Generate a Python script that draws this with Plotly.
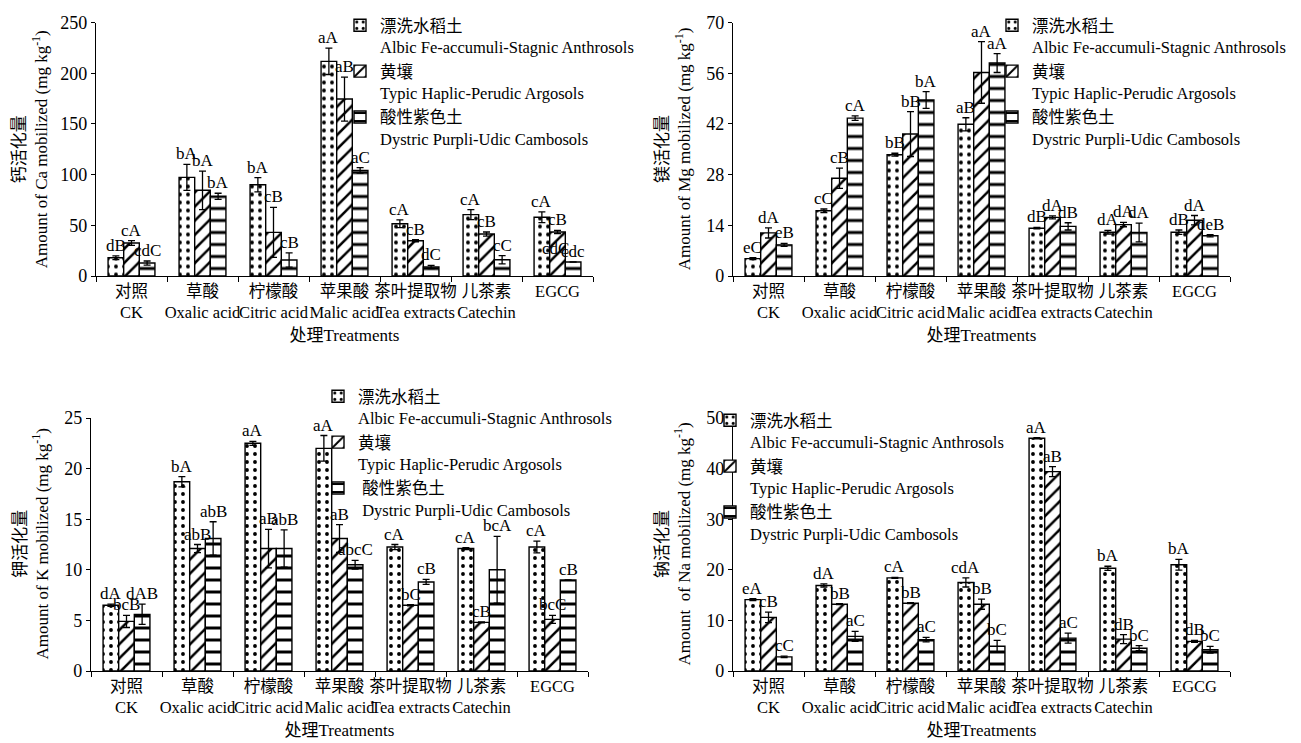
import plotly.graph_objects as go

FONT = "Liberation Serif, Times New Roman, Noto Sans CJK SC, serif"
W, H = 1301, 743

categories = ["对照<br>CK", "草酸<br>Oxalic acid", "柠檬酸<br>Citric acid", "苹果酸<br>Malic acid",
              "茶叶提取物<br>Tea extracts", "儿茶素<br>Catechin", "EGCG"]
series_names = ["漂洗水稻土<br>Albic Fe-accumuli-Stagnic Anthrosols",
                "黄壤<br>Typic Haplic-Perudic Argosols",
                "酸性紫色土<br>Dystric Purpli-Udic Cambosols"]
series_names_k = ["漂洗水稻土<br>Albic Fe-accumuli-Stagnic Anthrosols",
                  "黄壤<br>Typic Haplic-Perudic Argosols",
                  " 酸性紫色土<br> Dystric Purpli-Udic Cambosols"]

# Ca
ca_s1 = [18, 97.3, 90, 211.7, 51.6, 60.5, 57.9]
ca_s1_err = [1.8, 12.8, 7, 13, 3.8, 5, 5.3]
ca_s2 = [32.5, 84.5, 43, 174.5, 34.8, 41.4, 43.4]
ca_s2_err = [2.3, 19, 24.6, 21.7, 1, 2, 1.5]
ca_s3 = [12.8, 78.6, 15.8, 104.2, 8.9, 16, 13.8]
ca_s3_err = [2, 3, 7, 2.7, 1.5, 4, 0]
ca_l1 = ["dB", "bA", "bA", "aA", "cA", "cA", "cA"]
ca_l2 = ["cA", "bA", "cB", "aB", "cB", "cB", "cB"]
ca_l3 = ["cdC", "bA", "cB", "aC", "dC", "cC", "cdc"]
# stray label printed inside the EGCG hatched bar of the original figure
ca_stray_label = "cdC"
ca_stray_value = 27

# Mg
mg_s1 = [4.8, 18, 33.5, 41.9, 13.2, 12.1, 12.1]
mg_s1_err = [0.3, 0.5, 0.4, 1.8, 0.2, 0.5, 0.6]
mg_s2 = [11.9, 27, 39.2, 56.2, 16.2, 14.2, 15.4]
mg_s2_err = [1.4, 2.8, 6.2, 8.5, 0.4, 0.6, 1.3]
mg_s3 = [8.6, 43.6, 48.6, 58.8, 13.7, 12, 11.1]
mg_s3_err = [0.4, 0.6, 2.3, 2.6, 1, 2.6, 0.3]
mg_l1 = ["eC", "cC", "bB", "aB", "dB", "dA", "dB"]
mg_l2 = ["dA", "cB", "bB", "aA", "dA", "dA", "dA"]
mg_l3 = ["eB", "cA", "bA", "aA", "dB", "dA", "deB"]

# K
k_s1 = [6.5, 18.7, 22.5, 22, 12.25, 12.1, 12.25]
k_s1_err = [0.1, 0.5, 0.2, 1.27, 0.25, 0.1, 0.58]
k_s2 = [4.9, 12.1, 12.1, 13.1, 6.5, 4.8, 5.1]
k_s2_err = [0.6, 0.4, 1.9, 1.37, 0.05, 0.05, 0.4]
k_s3 = [5.6, 13.1, 12.1, 10.5, 8.8, 10.0, 9.0]
k_s3_err = [1.0, 1.65, 1.85, 0.43, 0.25, 3.3, 0]
k_l1 = ["dA", "bA", "aA", "aA", "cA", "cA", "cA"]
k_l2 = ["bcB", "abB", "aB", "aB", "bC", "cB", "bcC"]
k_l3 = ["dAB", "abB", "abB", "abcC", "cB", "bcA", "cB"]

# Na
na_s1 = [14.1, 16.9, 18.4, 17.5, 46.0, 20.3, 21]
na_s1_err = [0.2, 0.3, 0.1, 0.9, 0.1, 0.4, 1.05]
na_s2 = [10.6, 13.2, 13.4, 13.2, 39.4, 6.3, 5.85]
na_s2_err = [1.05, 0.1, 0.1, 1, 1, 0.9, 0.2]
na_s3 = [2.8, 6.85, 6.2, 4.9, 6.5, 4.5, 4.2]
na_s3_err = [0.15, 1, 0.45, 1.15, 1, 0.5, 0.65]
na_l1 = ["eA", "dA", "cA", "cdA", "aA", "bA", "bA"]
na_l2 = ["cB", "bB", "bB", "bB", "aB", "dB", "dB"]
na_l3 = ["cC", "aC", "aC", "bC", "aC", "bC", "bC"]

panels = [
    dict(vals=[ca_s1, ca_s2, ca_s3], errs=[ca_s1_err, ca_s2_err, ca_s3_err], labs=[ca_l1, ca_l2, ca_l3],
         names=series_names, ymax=250, dtick=50,
         ytitle="钙活化量<br>Amount of Ca mobilized (mg kg<sup>-1</sup>)", ytx=22,
         xpx=(88, 585), ypx=(14.5, 268), leg=(372, 0)),
    dict(vals=[mg_s1, mg_s2, mg_s3], errs=[mg_s1_err, mg_s2_err, mg_s3_err], labs=[mg_l1, mg_l2, mg_l3],
         names=series_names, ymax=70, dtick=14,
         ytitle="镁活化量<br>Amount of Mg mobilized (mg kg<sup>-1</sup>)", ytx=665,
         xpx=(725, 1222), ypx=(14.5, 268), leg=(1024, 0)),
    dict(vals=[k_s1, k_s2, k_s3], errs=[k_s1_err, k_s2_err, k_s3_err], labs=[k_l1, k_l2, k_l3],
         names=series_names_k, ymax=25, dtick=5,
         ytitle="钾活化量<br>Amount of K mobilized (mg kg<sup>-1</sup>)", ytx=23,
         xpx=(83, 580), ypx=(410, 663), leg=(350, 371)),
    dict(vals=[na_s1, na_s2, na_s3], errs=[na_s1_err, na_s2_err, na_s3_err], labs=[na_l1, na_l2, na_l3],
         names=series_names, ymax=50, dtick=10,
         ytitle="钠活化量<br>Amount  of Na mobilized (mg kg<sup>-1</sup>)", ytx=665,
         xpx=(725, 1222), ypx=(410, 663), leg=(742, 395)),
]

patterns = [
    dict(shape=".", size=8, solidity=0.18, fgcolor="black", bgcolor="white", fillmode="replace"),
    dict(shape="/", size=10, solidity=0.25, fgcolor="black", bgcolor="white", fillmode="replace"),
    dict(shape="-", size=12, solidity=0.25, fgcolor="black", bgcolor="white", fillmode="replace"),
]

BARGAP = 0.34
fig = go.Figure()
annotations = []
layout = dict(
    width=W, height=H, template="none",
    paper_bgcolor="white", plot_bgcolor="white",
    margin=dict(l=0, r=0, t=0, b=0, autoexpand=False),
    barmode="group", bargap=BARGAP, bargroupgap=0,
    font=dict(family=FONT, size=17, color="black"),
    showlegend=True,
)

bw = (1 - BARGAP) / 3
for p_i, p in enumerate(panels):
    suf = "" if p_i == 0 else str(p_i + 1)
    xref = "x" + suf
    yref = "y" + suf
    legname = "legend" + suf
    for s_i in range(3):
        fig.add_trace(go.Bar(
            x=categories, y=p["vals"][s_i], name=p["names"][s_i],
            xaxis=xref, yaxis=yref, legend=legname,
            marker=dict(color="white", line=dict(color="black", width=1.4), pattern=patterns[s_i]),
            error_y=dict(type="data", array=p["errs"][s_i], color="black", thickness=1.3, width=3.5, visible=True),
        ))
        for c_i, lab in enumerate(p["labs"][s_i]):
            annotations.append(dict(
                x=c_i + (s_i - 1) * bw, y=p["vals"][s_i][c_i] + p["errs"][s_i][c_i],
                xref=xref, yref=yref, text=lab, showarrow=False,
                yanchor="bottom", xanchor="center", font=dict(size=17, family=FONT), borderpad=0,
            ))
    x0, x1 = p["xpx"]
    yt, yb = p["ypx"]
    layout["xaxis" + suf] = dict(
        domain=[x0 / W, x1 / W], anchor=yref, type="category",
        showline=True, linecolor="black", linewidth=1.3, showgrid=False, zeroline=False,
        ticks="outside", tickson="boundaries", ticklen=5, tickcolor="black", tickwidth=1.2,
        tickangle=0, tickfont=dict(size=16.5, family=FONT), automargin=False,
        title=dict(text="处理Treatments", standoff=7, font=dict(size=17, family=FONT)),
    )
    layout["yaxis" + suf] = dict(
        domain=[1 - yb / H, 1 - yt / H], anchor=xref, range=[0, p["ymax"]], dtick=p["dtick"],
        showline=True, linecolor="black", linewidth=1.3, showgrid=False, zeroline=False,
        ticks="outside", ticklen=4, tickcolor="black", tickwidth=1.2,
        tickfont=dict(size=18, family=FONT), automargin=False,
    )
    # y-axis title (two lines, rotated)
    annotations.append(dict(
        x=p["ytx"] / W, y=1 - (yt + yb) / 2 / H, xref="paper", yref="paper",
        text=p["ytitle"], textangle=-90, showarrow=False, xanchor="center", yanchor="middle",
        font=dict(size=17, family=FONT),
    ))
    lx, ly = p["leg"]
    layout[legname] = dict(
        x=(lx - 40) / W, y=1 - ly / H, xanchor="left", yanchor="top",
        bgcolor="rgba(0,0,0,0)", borderwidth=0, valign="top",
        font=dict(size=16.5, family=FONT), tracegroupgap=0,
    )

# stray label in the Ca panel (EGCG, hatched bar)
annotations.append(dict(
    x=len(categories) - 1 - 0.1 * bw, y=ca_stray_value, xref="x", yref="y", text=ca_stray_label,
    showarrow=False, xanchor="center", yanchor="middle", font=dict(size=17, family=FONT),
))

layout["annotations"] = annotations
fig.update_layout(**layout)
fig.write_html("out.html")
